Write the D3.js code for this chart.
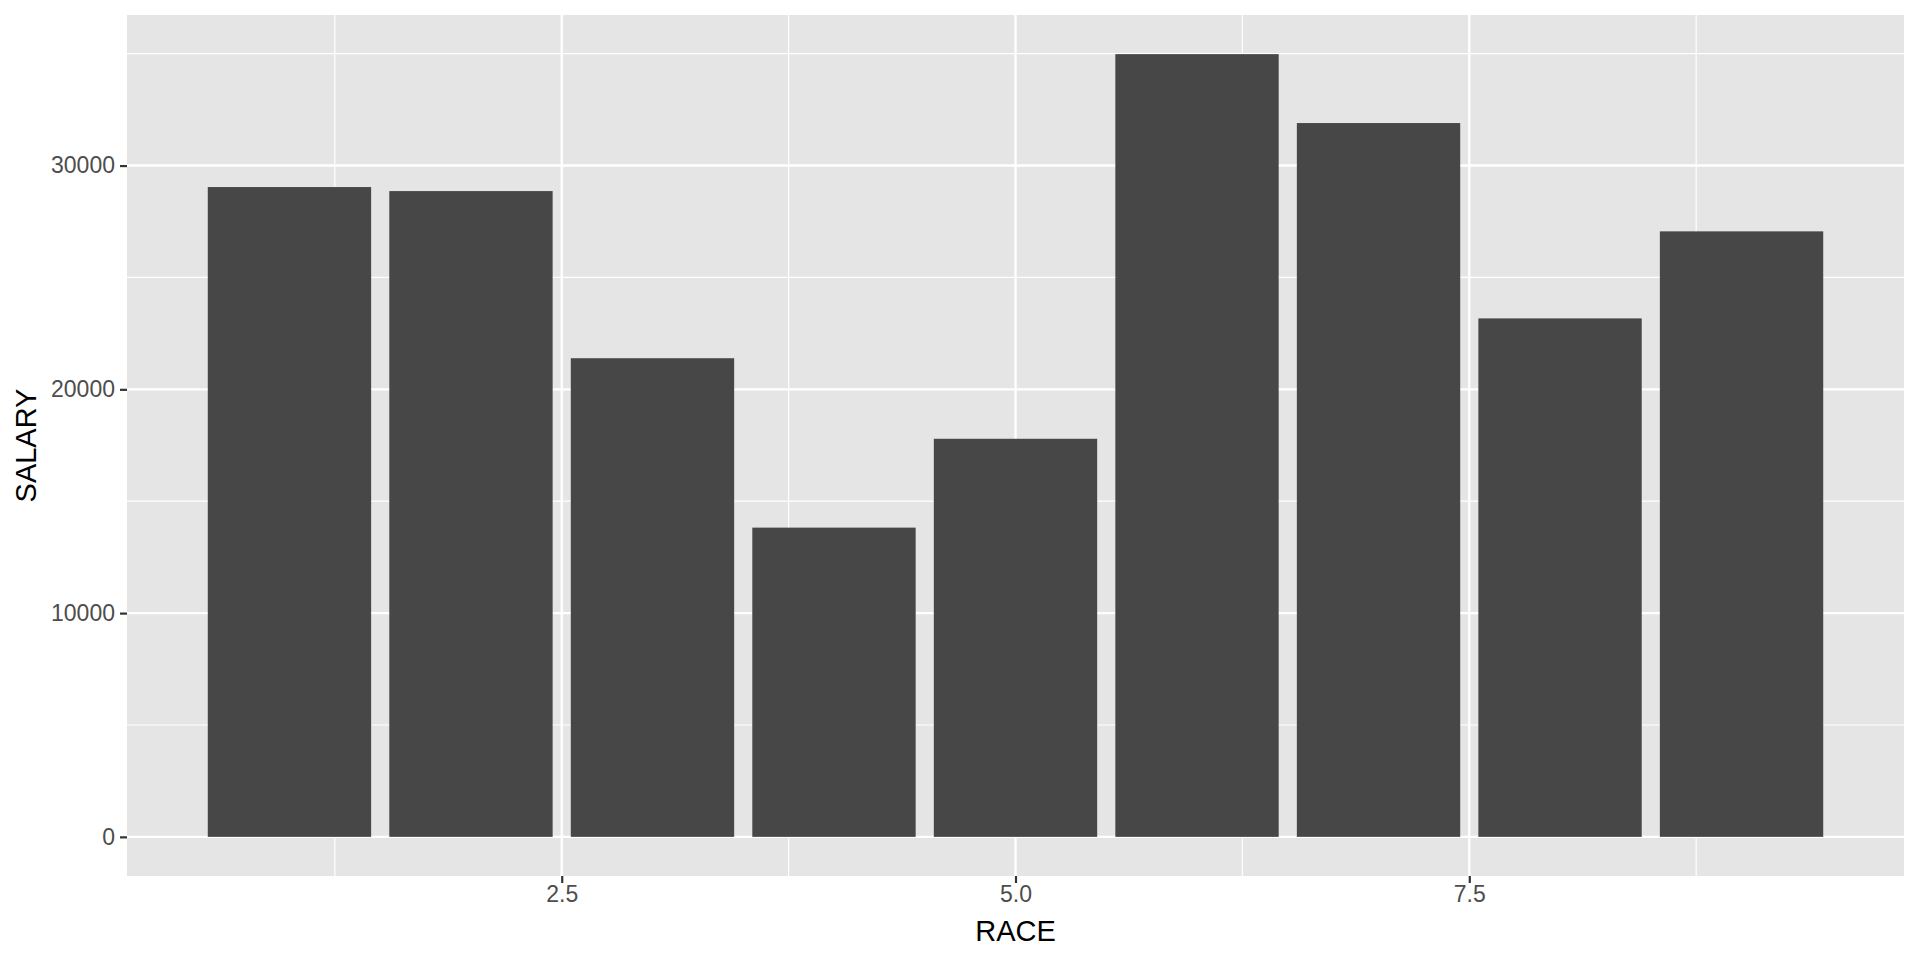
<!DOCTYPE html>
<html>
<head>
<meta charset="utf-8">
<script src="https://cdn.jsdelivr.net/npm/d3@7"></script>
<style>
  body { margin: 0; background: #fff; }
  svg { display: block; }
  text { font-family: "Liberation Sans", Arial, Helvetica, sans-serif; }
</style>
</head>
<body>
<svg class="chart"></svg>
<script>
'use strict';

// data
var race = [1, 2, 3, 4, 5, 6, 7, 8, 9];
var salary = [29040, 28860, 21390, 13820, 17790, 34980, 31900, 23170, 27060];
var xTicks = [2.5, 5.0, 7.5];
var xMinor = [1.25, 3.75, 6.25, 8.75];
var yTicks = [0, 10000, 20000, 30000];
var yMinor = [5000, 15000, 25000, 35000];

var width = 1920;
var height = 960;
var panel = {left: 127, top: 15, right: 1904, bottom: 876};
var barWidth = 0.9;

var svg = d3.select('.chart')
    .attr('width', width)
    .attr('height', height);

// ggplot style expansion (5% each side)
var xLo = d3.min(race) - barWidth / 2;
var xHi = d3.max(race) + barWidth / 2;
var xPad = (xHi - xLo) * 0.05;
var yMax = d3.max(salary);
var yPad = yMax * 0.05;

var x = d3.scaleLinear()
    .domain([xLo - xPad, xHi + xPad])
    .range([panel.left, panel.right]);

var y = d3.scaleLinear()
    .domain([-yPad, yMax + yPad])
    .range([panel.bottom, panel.top]);

svg.append('rect')
    .attr('x', panel.left)
    .attr('y', panel.top)
    .attr('width', panel.right - panel.left)
    .attr('height', panel.bottom - panel.top)
    .style('fill', '#E5E5E5');

var grid = svg.append('g');

grid.selectAll('.ymin').data(yMinor).enter().append('line')
    .attr('x1', panel.left).attr('x2', panel.right)
    .attr('y1', function (d) {return y(d);})
    .attr('y2', function (d) {return y(d);})
    .style('stroke', '#fff').style('stroke-width', 1.2);

grid.selectAll('.xmin').data(xMinor).enter().append('line')
    .attr('y1', panel.top).attr('y2', panel.bottom)
    .attr('x1', function (d) {return x(d);})
    .attr('x2', function (d) {return x(d);})
    .style('stroke', '#fff').style('stroke-width', 1.2);

grid.selectAll('.ymaj').data(yTicks).enter().append('line')
    .attr('x1', panel.left).attr('x2', panel.right)
    .attr('y1', function (d) {return y(d);})
    .attr('y2', function (d) {return y(d);})
    .style('stroke', '#fff').style('stroke-width', 2.4);

grid.selectAll('.xmaj').data(xTicks).enter().append('line')
    .attr('y1', panel.top).attr('y2', panel.bottom)
    .attr('x1', function (d) {return x(d);})
    .attr('x2', function (d) {return x(d);})
    .style('stroke', '#fff').style('stroke-width', 2.4);

svg.append('g').selectAll('rect')
    .data(race)
    .enter().append('rect')
    .attr('x', function (d) {return x(d - barWidth / 2);})
    .attr('width', function (d) {return x(d + barWidth / 2) - x(d - barWidth / 2);})
    .attr('y', function (d, i) {return y(salary[i]);})
    .attr('height', function (d, i) {return y(0) - y(salary[i]);})
    .style('fill', '#474747');

// axes
var xAxis = d3.axisBottom(x)
    .tickValues(xTicks)
    .tickFormat(d3.format('.1f'))
    .tickSize(7)
    .tickPadding(3);

var yAxis = d3.axisLeft(y)
    .tickValues(yTicks)
    .tickFormat(d3.format('d'))
    .tickSize(7)
    .tickPadding(5);

var gx = svg.append('g')
    .attr('transform', 'translate(0,' + panel.bottom + ')')
    .call(xAxis);

var gy = svg.append('g')
    .attr('transform', 'translate(' + panel.left + ',0)')
    .call(yAxis);

[gx, gy].forEach(function (g) {
    g.select('.domain').remove();
    g.selectAll('.tick line').style('stroke', '#333').style('stroke-width', 2.2);
    g.selectAll('.tick text')
        .style('fill', '#4D4D4D')
        .style('font-size', '23px')
        .style('font-family', '"Liberation Sans", Arial, sans-serif');
});

svg.append('text')
    .attr('x', (panel.left + panel.right) / 2)
    .attr('y', 941)
    .attr('text-anchor', 'middle')
    .style('font-size', '29px')
    .style('fill', '#000')
    .text('RACE');

svg.append('text')
    .attr('transform', 'translate(36,' + ((panel.top + panel.bottom) / 2) + ') rotate(-90)')
    .attr('text-anchor', 'middle')
    .style('font-size', '29px')
    .style('fill', '#000')
    .text('SALARY');
</script>
</body>
</html>
